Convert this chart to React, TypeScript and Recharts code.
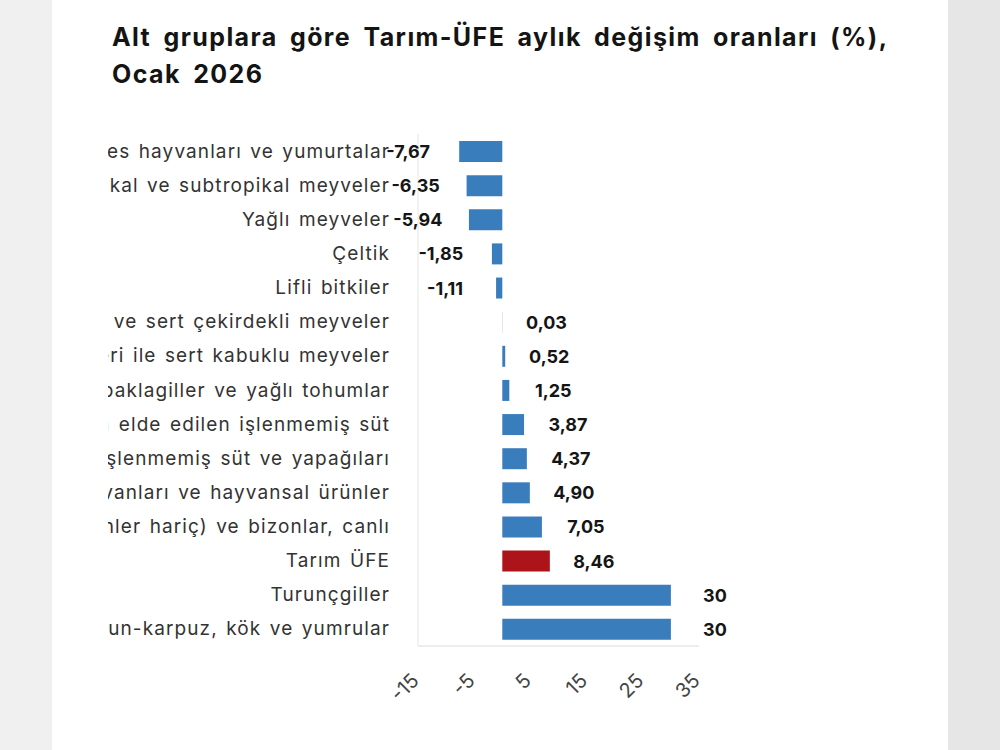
import React from "react";
import { Bar, BarChart, Cell, LabelList, XAxis, YAxis } from "recharts";

// alt gruplar, yukarıdan aşağıya
const groups = [
  "Canlı kümes hayvanları ve yumurtalar",
  "Tropikal ve subtropikal meyveler",
  "Yağlı meyveler",
  "Çeltik",
  "Lifli bitkiler",
  "Yumuşak çekirdekli meyveler ve sert çekirdekli meyveler",
  "Diğer ağaç ve çalı meyveleri ile sert kabuklu meyveler",
  "Tahıllar (pirinç hariç), baklagiller ve yağlı tohumlar",
  "Sığır ve mandalardan elde edilen işlenmemiş süt",
  "Koyun ve keçilerden elde edilen işlenmemiş süt ve yapağıları",
  "Diğer çiftlik hayvanları ve hayvansal ürünler",
  "Sığırlar (süt için yetiştirilenler hariç) ve bizonlar, canlı",
  "Tarım ÜFE",
  "Turunçgiller",
  "Sebzeler ve kavun-karpuz, kök ve yumrular",
];

const changes = [-7.67, -6.35, -5.94, -1.85, -1.11, 0.03, 0.52, 1.25, 3.87, 4.37, 4.9, 7.05, 8.46, 30, 30];

const xTicks = [-15, -5, 5, 15, 25, 35];

const highlight = "Tarım ÜFE";

const BLUE = "#3a7dbd";
const RED = "#ad1419";
const FONT = "Inter, Roboto, sans-serif";

const data = groups.map((name, i) => ({ name, value: changes[i] }));

const fmt = (v: number) => (Number.isInteger(v) ? String(v) : v.toFixed(2).replace(".", ","));

function ValueLabel(props: any) {
  const { x, y, width, height, value } = props;
  const left = Math.min(x, x + width);
  const right = Math.max(x, x + width);
  const cx = value < 0 ? left - 51 : right + 44;
  return (
    <text
      x={cx}
      y={y + height / 2}
      textAnchor="middle"
      dominantBaseline="central"
      fontSize={18}
      fontWeight={700}
      fontFamily={FONT}
      fill="#151515"
    >
      {fmt(value)}
    </text>
  );
}

function XTick(props: any) {
  const { x, y, payload } = props;
  const ax = x + 2;
  const ay = y + 34;
  return (
    <text
      x={ax}
      y={ay}
      transform={`rotate(-45 ${ax} ${ay})`}
      textAnchor="end"
      fontSize={20}
      fontFamily={FONT}
      fill="#444"
    >
      {payload.value}
    </text>
  );
}

function YTick(props: any) {
  const { x, y, payload } = props;
  return (
    <text
      x={x}
      y={y}
      textAnchor="end"
      dominantBaseline="central"
      fontSize={19}
      letterSpacing={1.1}
      wordSpacing={2}
      fontFamily={FONT}
      fill="#333"
    >
      {payload.value}
    </text>
  );
}

export default function App() {
  return (
    <div
      style={{
        position: "fixed",
        left: 0,
        top: 0,
        width: 1000,
        height: 750,
        background: "#f0f0f0",
        fontFamily: FONT,
        overflow: "hidden",
      }}
    >
      <div style={{ position: "absolute", left: 948, top: 0, width: 52, height: 750, background: "#e6e6e6" }} />
      <div style={{ position: "absolute", left: 52, top: 0, width: 896, height: 750, background: "#fff" }}>
        <div
          style={{
            position: "absolute",
            left: 60,
            top: 19,
            fontSize: 25,
            fontWeight: 700,
            letterSpacing: 1.4,
            wordSpacing: 5,
            lineHeight: "36.6px",
            color: "#141414",
            whiteSpace: "nowrap",
          }}
        >
          Alt gruplara göre Tarım-ÜFE aylık değişim oranları (%),
          <br />
          Ocak 2026
        </div>
        <div style={{ position: "absolute", left: 56, top: 120, width: 640, height: 610, overflow: "hidden" }}>
          <BarChart
            width={640}
            height={610}
            data={data}
            layout="vertical"
            margin={{ top: 14, right: 49, bottom: 24, left: 0 }}
          >
            <XAxis
              type="number"
              domain={[-15, 35]}
              ticks={xTicks}
              allowDataOverflow
              height={60}
              tickLine={false}
              tickSize={0}
              axisLine={{ stroke: "#dcdcdc" }}
              tick={<XTick />}
            />
            <YAxis
              type="category"
              dataKey="name"
              width={310}
              tickLine={false}
              tickSize={0}
              tickMargin={28}
              axisLine={{ stroke: "#e6e6e6" }}
              interval={0}
              tick={<YTick />}
            />
            <Bar dataKey="value" barSize={21} isAnimationActive={false}>
              {data.map((d) => (
                <Cell key={d.name} fill={d.name === highlight ? RED : BLUE} />
              ))}
              <LabelList dataKey="value" content={<ValueLabel />} />
            </Bar>
          </BarChart>
        </div>
      </div>
    </div>
  );
}
